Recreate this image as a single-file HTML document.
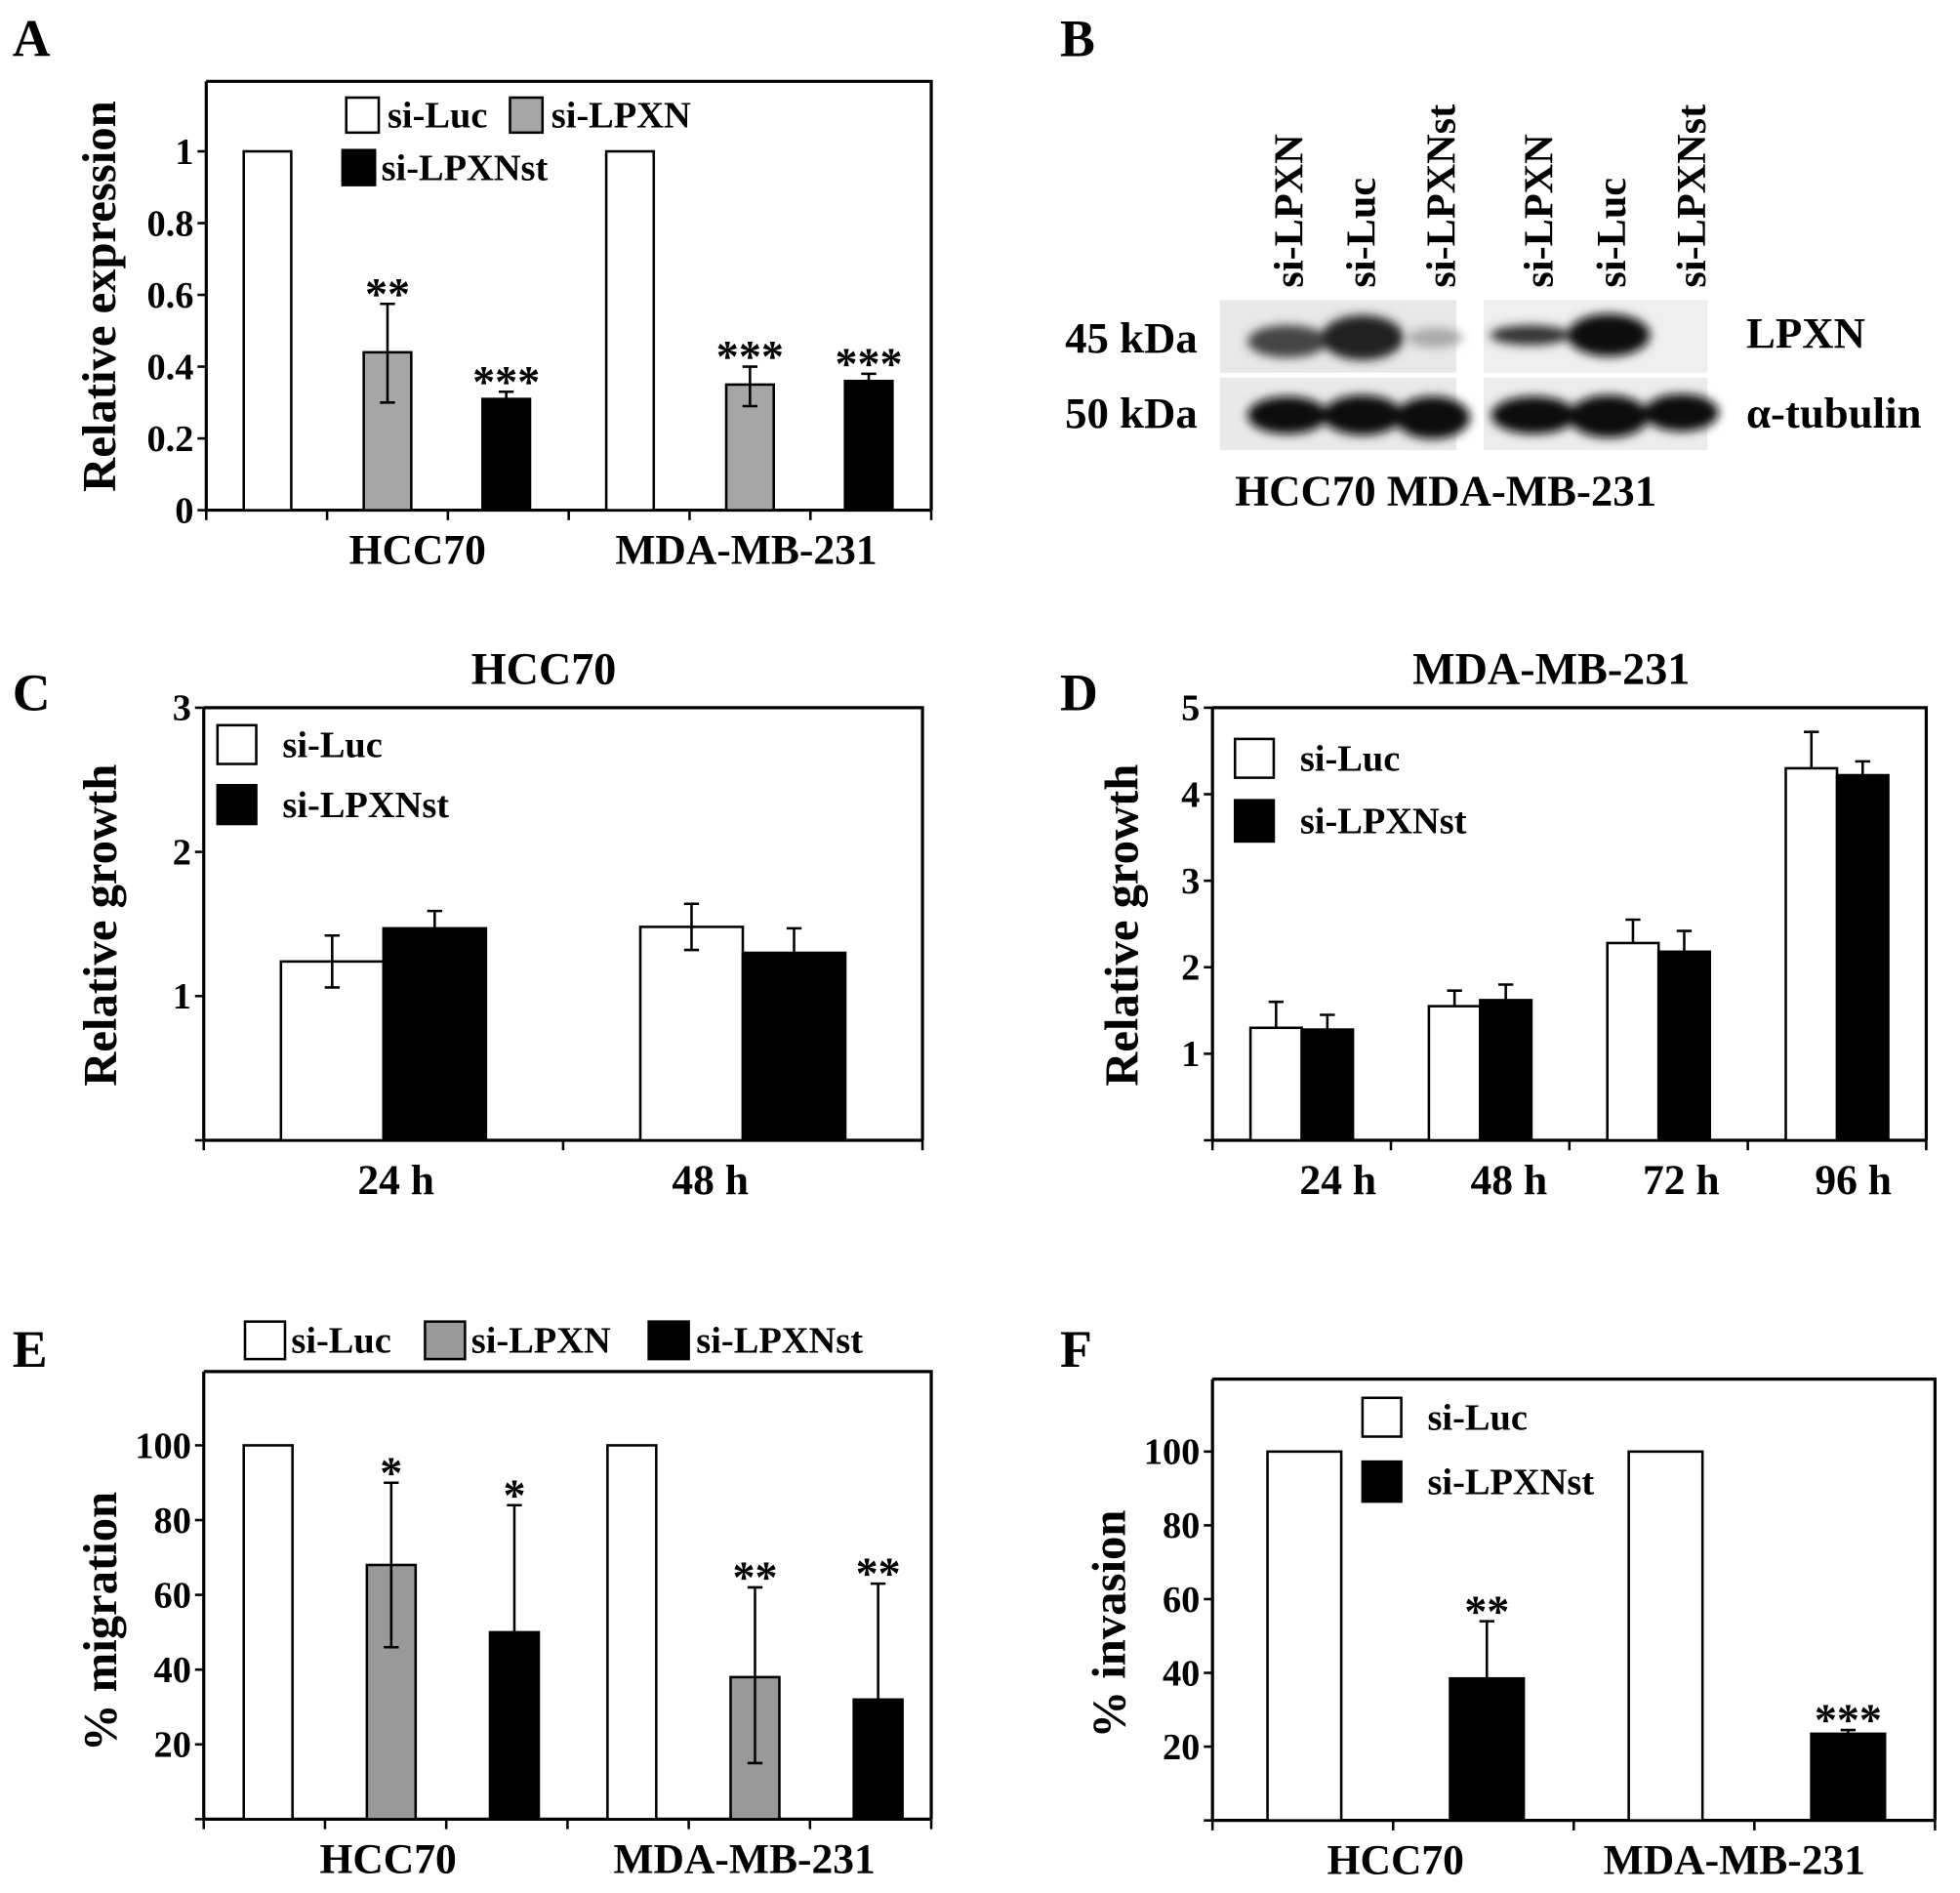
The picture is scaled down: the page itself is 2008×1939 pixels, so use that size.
<!DOCTYPE html>
<html><head><meta charset="utf-8"><style>
html,body{margin:0;padding:0;background:#fff}
svg{display:block}
text{font-family:"Liberation Serif",serif;font-weight:bold;fill:#000}
</style></head><body>
<svg id="fig" width="2008" height="1939" viewBox="0 0 1568 1514" xmlns="http://www.w3.org/2000/svg">
<rect x="0" y="0" width="1568" height="1514" fill="#fff"/>
<g id="blot">
  <text x="848" y="45" font-size="42">B</text>
  <defs><filter id="blur"><feGaussianBlur stdDeviation="4"/></filter></defs>
  <rect x="976" y="240" width="189" height="58" fill="#e8e8e8"/>
  <rect x="1187" y="240" width="179" height="58" fill="#efefef"/>
  <rect x="976" y="302" width="189" height="58" fill="#e9e9e9"/>
  <rect x="1187" y="302" width="179" height="58" fill="#ececec"/>
  <g filter="url(#blur)">
    <ellipse cx="1030" cy="273" rx="32" ry="13" fill="#444"/>
    <ellipse cx="1090" cy="270" rx="33" ry="18" fill="#222"/>
    <ellipse cx="1148" cy="270" rx="22" ry="8" fill="#aaa"/>
    <ellipse cx="1224" cy="268" rx="32" ry="8" fill="#333"/>
    <ellipse cx="1287" cy="268" rx="33" ry="17" fill="#111"/>
    <ellipse cx="1030" cy="332" rx="32" ry="15" fill="#111"/>
    <ellipse cx="1090" cy="332" rx="32" ry="16" fill="#111"/>
    <ellipse cx="1146" cy="334" rx="30" ry="17" fill="#111"/>
    <ellipse cx="1227" cy="332" rx="34" ry="15" fill="#111"/>
    <ellipse cx="1287" cy="333" rx="32" ry="17" fill="#111"/>
    <ellipse cx="1345" cy="330" rx="30" ry="15" fill="#111"/>
  </g>
  <text x="852" y="282" font-size="35">45 kDa</text>
  <text x="852" y="342" font-size="35">50 kDa</text>
  <text x="1397" y="278" font-size="35">LPXN</text>
  <text x="1397" y="342" font-size="35">α-tubulin</text>
  <text x="988" y="404" font-size="35">HCC70  MDA-MB-231</text>
  <text transform="translate(1042,230) rotate(-90)" font-size="33">si-LPXN</text>
  <text transform="translate(1100,230) rotate(-90)" font-size="33">si-Luc</text>
  <text transform="translate(1164,230) rotate(-90)" font-size="33">si-LPXNst</text>
  <text transform="translate(1242,230) rotate(-90)" font-size="33">si-LPXN</text>
  <text transform="translate(1300,230) rotate(-90)" font-size="33">si-Luc</text>
  <text transform="translate(1364,230) rotate(-90)" font-size="33">si-LPXNst</text>
</g>
</svg>
<script>
// Panel A
const aCategories = ["HCC70", "MDA-MB-231"];
const aLuc = [1, 1];
const aLpxn = [0.44, 0.35];
const aLpxnst = [0.31, 0.36];
const aLpxnErr = [[0.30, 0.575], [0.29, 0.40]];
const aLpxnstErr = [[0.29, 0.33], [0.34, 0.38]];
const aStarsLpxn = ["**", "***"];
const aStarsLpxnst = ["***", "***"];
const aTicks = [0, 0.2, 0.4, 0.6, 0.8, 1];
const aTickLabels = ["0", "0.2", "0.4", "0.6", "0.8", "1"];
// Panel C
const cCategories = ["24  h", "48  h"];
const cLuc = [1.24, 1.48];
const cLpxnst = [1.47, 1.30];
const cLucErr = [[1.06, 1.42], [1.32, 1.64]];
const cLpxnstErr = [[1.35, 1.59], [1.13, 1.47]];
const cTicks = [0, 1, 2, 3];
const cTickLabels = ["", "1", "2", "3"];
// Panel D
const dCategories = ["24  h", "48  h", "72  h", "96  h"];
const dLuc = [1.30, 1.55, 2.28, 4.30];
const dLpxnst = [1.28, 1.62, 2.18, 4.22];
const dLucErr = [[null, 1.60], [null, 1.73], [null, 2.55], [null, 4.72]];
const dLpxnstErr = [[null, 1.45], [null, 1.80], [null, 2.42], [null, 4.38]];
const dTicks = [0, 1, 2, 3, 4, 5];
const dTickLabels = ["", "1", "2", "3", "4", "5"];
// Panel E
const eCategories = ["HCC70", "MDA-MB-231"];
const eLuc = [100, 100];
const eLpxn = [68, 38];
const eLpxnst = [50, 32];
const eLpxnErr = [[46, 90], [15, 62]];
const eLpxnstErr = [[null, 84], [null, 63]];
const eStarsLpxn = ["*", "**"];
const eStarsLpxnst = ["*", "**"];
const eTicks = [0, 20, 40, 60, 80, 100];
const eTickLabels = ["", "20", "40", "60", "80", "100"];
// Panel F
const fCategories = ["HCC70", "MDA-MB-231"];
const fLuc = [100, 100];
const fLpxnst = [38.5, 23.5];
const fLpxnstErr = [[null, 54], [null, 24.5]];
const fStarsLpxnst = ["**", "***"];
const fTicks = [0, 20, 40, 60, 80, 100];
const fTickLabels = ["", "20", "40", "60", "80", "100"];

const NS = "http://www.w3.org/2000/svg";
const svg = document.getElementById("fig");
function mk(tag, attrs, parent, txt) {
  const e = document.createElementNS(NS, tag);
  for (const k in attrs) e.setAttribute(k, attrs[k]);
  if (txt !== undefined) e.textContent = txt;
  (parent || svg).appendChild(e);
  return e;
}

function chart(o) {
  const g = mk("g", {});
  
  
  const y = v => o.y0 - (v - o.vmin) / (o.vmax - o.vmin) * (o.y0 - o.y1);
  const n = o.cats.length;
  const band = (o.x1 - o.x0) / n;
  const cx = i => o.x0 + band * (i + 0.5) + (o.shift || 0);
  const fr = mk("path", {d: `M${o.x0},${o.top} H${o.x1} V${o.y0} M${o.x0},${o.top} V${o.y0} H${o.x1}`, fill: "none", stroke: "#000", "stroke-width": 2.5}, g);
  
  
  o.ticks.forEach((t, i) => {
    const yy = y(t);
    const tk = mk("line", {x1: o.x0 - 7, x2: o.x0, y1: yy, y2: yy, stroke: "#000", "stroke-width": 2}, g);
    
    
    if (o.tickLabels[i]) {
      const tl = mk("text", {x: o.x0 - 10, y: yy + 10, "text-anchor": "end", "font-size": 30}, g, o.tickLabels[i]);
      
      
    }
  });
  const nt = o.xTickCount;
  for (let k = 0; k <= nt; k++) {
    const xx = o.x0 + (o.x1 - o.x0) * k / nt;
    const tk = mk("line", {x1: xx, x2: xx, y1: o.y0, y2: o.y0 + 8, stroke: "#000", "stroke-width": 2}, g);
    
    
  }
  o.cats.forEach((c, i) => {
    const t = mk("text", {x: o.x0 + band * (i + 0.5) + (o.labShift ? o.labShift[i] : 0), y: o.y0 + 43, "text-anchor": "middle", "font-size": 34}, g, c);
    
    
  });
  o.series.forEach(s => {
    s.vals.forEach((v, i) => {
      const bx = cx(i) + s.off;
      const top = y(v);
      const r = mk("rect", {x: bx - o.bw / 2, y: top, width: o.bw, height: o.y0 - top, fill: s.fill, stroke: "#000", "stroke-width": 2}, g);
      
      
      if (s.err) {
        const [lo, hi] = s.err[i];
        const yt = y(hi);
        const yb = lo == null ? top : y(lo);
        const ln = mk("path", {d: `M${bx},${yb} V${yt} M${bx - 6},${yt} H${bx + 6}` + (lo == null ? "" : ` M${bx - 6},${yb} H${bx + 6}`), stroke: "#000", "stroke-width": 2, fill: "none"}, g);
        
        
      }
      if (s.stars) {
        const topv = s.err ? y(s.err[i][1]) : top;
        const st = mk("text", {x: bx, y: topv, dy: 4, "text-anchor": "middle", "font-size": 36, "font-weight": "normal"}, g, s.stars[i]);
        
        
      }
    });
  });
  const yt = mk("text", {transform: `translate(${o.ylx},${o.yly}) rotate(-90)`, "text-anchor": "middle", "font-size": 38}, g, o.ylabel);
  
  
  const pl = mk("text", {x: o.plx, y: o.ply, "font-size": 42}, g, o.panel);
  
  
  if (o.title) {
    const tt = mk("text", {x: o.title[1], y: o.title[2], "text-anchor": "middle", "font-size": 36}, g, o.title[0]);
    
    
  }
  o.legend.forEach(L => {
    const b = mk("rect", {x: L[0], y: L[1], width: L[2], height: L[3], fill: L[4], stroke: "#000", "stroke-width": 2}, g);
    
    
    const t = mk("text", {x: L[5], y: L[1] + L[3] / 2 + 10, "font-size": 30}, g, L[6]);
    
    
  });
}

chart({name: "chart-a-relative-expression", panel: "A", plx: 10, ply: 45,
  x0: 165, x1: 745, top: 65, y0: 408, y1: 121, vmin: 0, vmax: 1, shift: 0, labShift: [24, -3],
  ticks: aTicks, tickLabels: aTickLabels, xTickCount: 6, cats: aCategories, bw: 38,
  series: [
    {name: "si-luc", vals: aLuc, fill: "#fff", off: -96},
    {name: "si-lpxn", vals: aLpxn, fill: "#a6a6a6", off: 0, err: aLpxnErr, stars: aStarsLpxn},
    {name: "si-lpxnst", vals: aLpxnst, fill: "#000", off: 95, err: aLpxnstErr, stars: aStarsLpxnst}],
  ylabel: "Relative  expression", ylx: 92, yly: 237,
  legend: [[277, 78, 26, 28, "#fff", 310, "si-Luc"], [408, 78, 26, 28, "#a6a6a6", 441, "si-LPXN"], [274, 120, 26, 28, "#000", 305, "si-LPXNst"]]});

chart({name: "chart-c-hcc70-growth", panel: "C", plx: 10, ply: 568, title: ["HCC70", 435, 547],
  x0: 163, x1: 738, top: 566, y0: 912, y1: 566, vmin: 0, vmax: 3, shift: 0, labShift: [10, -26],
  ticks: cTicks, tickLabels: cTickLabels, xTickCount: 2, cats: cCategories, bw: 82,
  series: [
    {name: "si-luc", vals: cLuc, fill: "#fff", off: -41, err: cLucErr},
    {name: "si-lpxnst", vals: cLpxnst, fill: "#000", off: 41, err: cLpxnstErr}],
  ylabel: "Relative growth", ylx: 93, yly: 740,
  legend: [[174, 580, 31, 31, "#fff", 226, "si-Luc"], [174, 628, 31, 31, "#000", 226, "si-LPXNst"]]});

chart({name: "chart-d-mda-growth", panel: "D", plx: 848, ply: 568, title: ["MDA-MB-231", 1241, 547],
  x0: 970, x1: 1541, top: 566, y0: 912, y1: 566, vmin: 0, vmax: 5, shift: 0, labShift: [29, 23, 18, 13],
  ticks: dTicks, tickLabels: dTickLabels, xTickCount: 4, cats: dCategories, bw: 41,
  series: [
    {name: "si-luc", vals: dLuc, fill: "#fff", off: -20.5, err: dLucErr},
    {name: "si-lpxnst", vals: dLpxnst, fill: "#000", off: 20.5, err: dLpxnstErr}],
  ylabel: "Relative growth", ylx: 910, yly: 740,
  legend: [[988, 591, 31, 31, "#fff", 1040, "si-Luc"], [988, 640, 31, 33, "#000", 1040, "si-LPXNst"]]});

chart({name: "chart-e-migration", panel: "E", plx: 10, ply: 1093,
  x0: 163, x1: 745, top: 1097, y0: 1455, y1: 1156, vmin: 0, vmax: 100, shift: 4.5, labShift: [2, -4],
  ticks: eTicks, tickLabels: eTickLabels, xTickCount: 6, cats: eCategories, bw: 39,
  series: [
    {name: "si-luc", vals: eLuc, fill: "#fff", off: -98.5},
    {name: "si-lpxn", vals: eLpxn, fill: "#999", off: 0, err: eLpxnErr, stars: eStarsLpxn},
    {name: "si-lpxnst", vals: eLpxnst, fill: "#000", off: 98.5, err: eLpxnstErr, stars: eStarsLpxnst}],
  ylabel: "% migration", ylx: 93, yly: 1297,
  legend: [[196, 1057, 32, 30, "#fff", 233, "si-Luc"], [340, 1057, 32, 30, "#999", 377, "si-LPXN"], [519, 1057, 32, 30, "#000", 557, "si-LPXNst"]]});

chart({name: "chart-f-invasion", panel: "F", plx: 848, ply: 1093,
  x0: 970, x1: 1548, top: 1103, y0: 1456, y1: 1161, vmin: 0, vmax: 100, shift: 2, labShift: [2, -16],
  ticks: fTicks, tickLabels: fTickLabels, xTickCount: 4, cats: fCategories, bw: 59,
  series: [
    {name: "si-luc", vals: fLuc, fill: "#fff", off: -73},
    {name: "si-lpxnst", vals: fLpxnst, fill: "#000", off: 73, err: fLpxnstErr, stars: fStarsLpxnst}],
  ylabel: "% invasion", ylx: 900, yly: 1299,
  legend: [[1090, 1118, 31, 31, "#fff", 1142, "si-Luc"], [1090, 1169, 31, 32, "#000", 1142, "si-LPXNst"]]});
</script>
</body></html>
